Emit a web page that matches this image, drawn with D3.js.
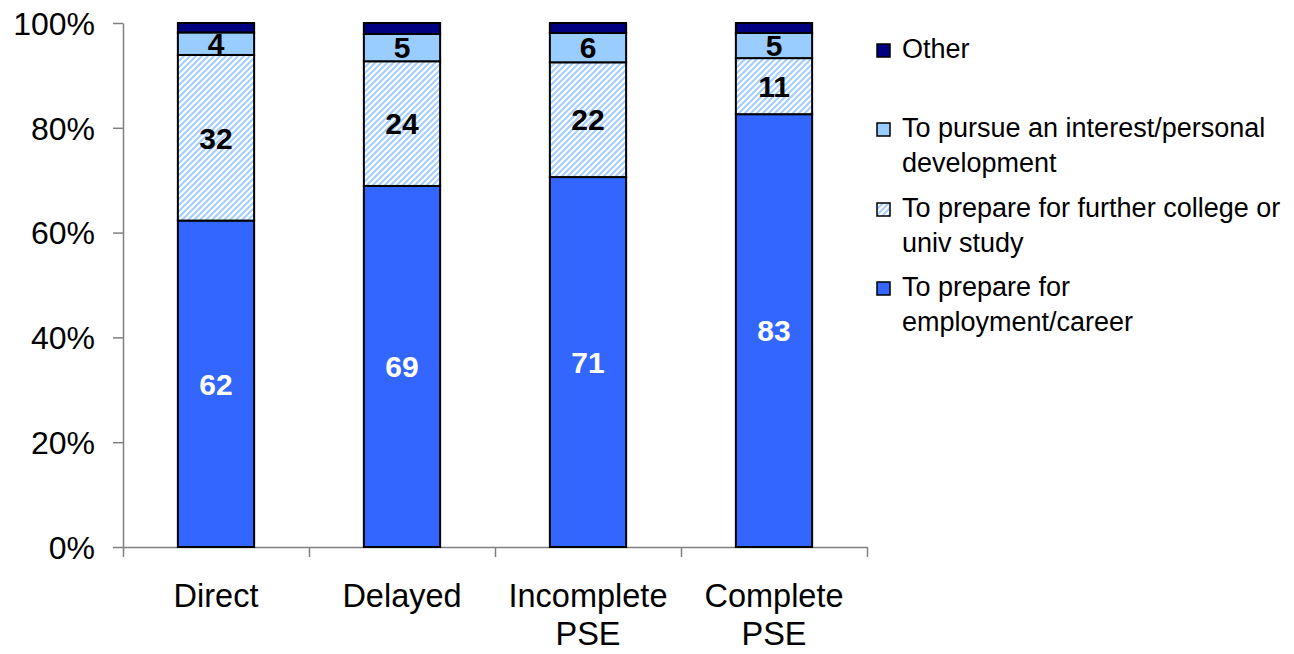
<!DOCTYPE html>
<html>
<head>
<meta charset="utf-8">
<script src="https://cdn.jsdelivr.net/npm/d3@7"></script>
<style>
  html, body { margin: 0; padding: 0; background: #fff; }
  svg { display: block; font-family: "Liberation Sans", Arial, sans-serif; }
</style>
</head>
<body>
<svg id="chart" width="1294" height="654"></svg>
<script>
const categories = [["Direct"], ["Delayed"], ["Incomplete", "PSE"], ["Complete", "PSE"]];
const employment = [62.3, 68.9, 70.6, 82.6];
const furtherStudy = [31.6, 23.8, 21.9, 10.7];
const personalInterest = [4.3, 5.2, 5.6, 4.8];
const other = [1.8, 2.1, 1.9, 1.9];
const yTicks = [0, 20, 40, 60, 80, 100];
const seriesNames = ["To prepare for employment/career", "To prepare for further college or univ study", "To pursue an interest/personal development", "Other"];
const legendLines = [["Other"], ["To pursue an interest/personal", "development"], ["To prepare for further college or", "univ study"], ["To prepare for", "employment/career"]];

const svg = d3.select("#chart");
const defs = svg.append("defs");
const pat = defs.append("pattern").attr("id", "hatch").attr("patternUnits", "userSpaceOnUse")
  .attr("width", 6).attr("height", 6);
pat.append("rect").attr("width", 6).attr("height", 6).attr("fill", "#ffffff");
pat.append("path").attr("d", "M-3,3 L3,-3 M0,6 L6,0 M3,9 L9,3")
  .attr("stroke", "#a6cfff").attr("stroke-width", 2.2);

const fills = ["#3366ff", "url(#hatch)", "#99ccff", "#000080"];
const labelColors = ["#ffffff", "#000000", "#000000", null];

const plotLeft = 123, plotRight = 867, plotTop = 23, plotBottom = 547;
const keys = categories.map(c => c.join(" "));
const x = d3.scaleBand().domain(keys).range([plotLeft, plotRight]).paddingInner(0.59).paddingOuter(0.295);
const y = d3.scaleLinear().domain([0, 100]).range([plotBottom, plotTop]);

const rows = keys.map((k, i) => ({ key: k, s0: employment[i], s1: furtherStudy[i], s2: personalInterest[i], s3: other[i] }));
const stack = d3.stack().keys(["s0", "s1", "s2", "s3"]);
const stacked = stack(rows);

// Y axis
const yAxis = svg.append("g").attr("transform", `translate(${plotLeft},0)`)
  .call(d3.axisLeft(y).tickValues(yTicks).tickFormat(d => d + "%").tickSize(10).tickSizeOuter(0).tickPadding(18));
yAxis.select(".domain").attr("stroke", "#808080").attr("stroke-width", 1.5);
yAxis.selectAll(".tick line").attr("stroke", "#808080").attr("stroke-width", 1.5);
yAxis.selectAll("text").attr("font-size", 32).attr("fill", "#000").attr("font-family", "Liberation Sans, Arial, sans-serif").attr("dy", "0.35em");

// X axis (category boundaries)
const xb = d3.scaleLinear().domain([0, categories.length]).range([plotLeft, plotRight]);
const xAxis = svg.append("g").attr("transform", `translate(0,${plotBottom})`)
  .call(d3.axisBottom(xb).tickValues(d3.range(categories.length + 1)).tickFormat("").tickSize(10).tickSizeOuter(0));
xAxis.select(".domain").attr("stroke", "#808080").attr("stroke-width", 1.5);
xAxis.selectAll(".tick line").attr("stroke", "#808080").attr("stroke-width", 1.5);

// Bars
stacked.forEach((layer, si) => {
  const g = svg.append("g");
  g.selectAll("rect").data(layer).enter().append("rect")
    .attr("x", d => x(d.data.key))
    .attr("width", x.bandwidth())
    .attr("y", d => y(d[1]))
    .attr("height", d => y(d[0]) - y(d[1]))
    .attr("fill", fills[si])
    .attr("stroke", "#000").attr("stroke-width", 2);
  if (labelColors[si]) {
    g.selectAll("text").data(layer).enter().append("text")
      .attr("x", d => x(d.data.key) + x.bandwidth() / 2)
      .attr("y", d => (y(d[0]) + y(d[1])) / 2)
      .attr("dy", "0.36em")
      .attr("text-anchor", "middle")
      .attr("font-size", 30).attr("font-weight", "bold")
      .attr("fill", labelColors[si])
      .text(d => Math.round(d[1] - d[0]));
  }
});

// Category labels
const catG = svg.append("g");
categories.forEach((lines, i) => {
  const cx = x(keys[i]) + x.bandwidth() / 2;
  lines.forEach((t, j) => {
    catG.append("text").attr("x", cx).attr("y", 607 + j * 38)
      .attr("text-anchor", "middle").attr("font-size", 32.5).attr("fill", "#000").text(t);
  });
});

// Legend
const legendFills = ["#000080", "#99ccff", "url(#hatch)", "#3366ff"];
const legY = [58, 137, 217, 296];
const lg = svg.append("g");
legendLines.forEach((lines, i) => {
  lg.append("rect").attr("x", 877).attr("y", legY[i] - 14).attr("width", 13).attr("height", 13)
    .attr("fill", legendFills[i]).attr("stroke", "#000").attr("stroke-width", 1.5);
  lines.forEach((t, j) => {
    lg.append("text").attr("x", 902).attr("y", legY[i] + j * 35)
      .attr("font-size", 27).attr("fill", "#000").text(t);
  });
});
</script>
</body>
</html>
